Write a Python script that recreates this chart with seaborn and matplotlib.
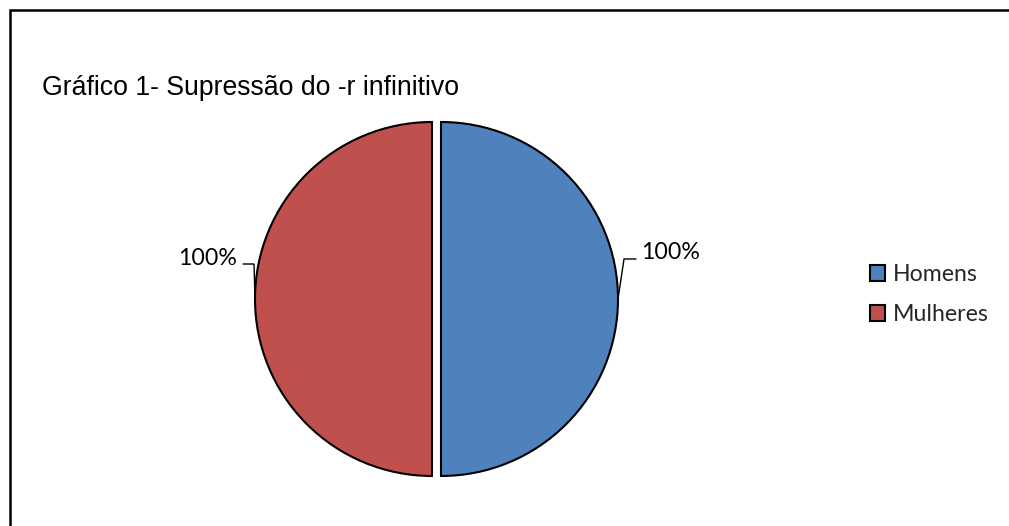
import numpy as np
import matplotlib
matplotlib.use("Agg")
import matplotlib.pyplot as plt
import matplotlib.patches as mpatches
import seaborn as sns

# ---- data ----
categories = ["Homens", "Mulheres"]
values = [100, 100]
value_labels = ["100%", "100%"]
colors = ["#4F81BD", "#C0504D"]
title = "Gráfico 1- Supressão do -r infinitivo"

sns.set_theme(style="white")
plt.rcParams["font.family"] = ["Liberation Sans", "DejaVu Sans"]

W, H = 1009, 526
fig = plt.figure(figsize=(W / 100, H / 100), dpi=100)
fig.patch.set_facecolor("white")

# pie axes: square box of 400 px centred at (436.5, 299) px (top-down coords)
R_PX = 177.0
cx, cy = 436.5, 299.0
box = 400.0
ax = fig.add_axes([(cx - box / 2) / W, (H - (cy + box / 2)) / H, box / W, box / H])
ax.set_facecolor("none")

explode = [4.5 / R_PX] * len(values)
wedges, _ = ax.pie(values, colors=colors, startangle=90, counterclock=False,
                   explode=explode, radius=1.0,
                   wedgeprops=dict(edgecolor="black", linewidth=1.5))
lim = box / 2 / R_PX
ax.set_xlim(-lim, lim)
ax.set_ylim(-lim, lim)
ax.set_aspect("equal")
ax.axis("off")

# leader lines & labels (offsets in px relative to the wedge edge at mid-angle)
label_font = ["Lato", "DejaVu Sans"]
layouts = [
    dict(elbow=(6, 40), end=(18, 40), text=(23, 46), ha="left"),
    dict(elbow=(-1, 35), end=(-12, 35), text=(-18, 40), ha="right"),
]
for w, lab, lay in zip(wedges, value_labels, layouts):
    mid = np.deg2rad((w.theta1 + w.theta2) / 2)
    c = w.center
    sx = c[0] + w.r * np.cos(mid)
    sy = c[1] + w.r * np.sin(mid)
    ex, ey = sx + lay["elbow"][0] / R_PX, sy + lay["elbow"][1] / R_PX
    hx, hy = sx + lay["end"][0] / R_PX, sy + lay["end"][1] / R_PX
    ax.plot([sx, ex, hx], [sy, ey, hy], color="black", lw=1.0,
            solid_joinstyle="miter")
    ax.text(sx + lay["text"][0] / R_PX, sy + lay["text"][1] / R_PX, lab,
            ha=lay["ha"], va="center", fontsize=16.7, family=label_font,
            color="black")

# title
fig.text(42 / W, 1 - 95 / H, title, ha="left", va="baseline",
         fontsize=19.2, family=["Liberation Sans", "DejaVu Sans"], color="black")

# legend
handles = [mpatches.Patch(facecolor=c, edgecolor="black", linewidth=1.5)
           for c in colors]
leg = fig.legend(handles, categories, loc="center left",
                 bbox_to_anchor=(869.5 / W, 1 - 294.5 / H),
                 frameon=False, borderpad=0, borderaxespad=0,
                 handlelength=0.68, handleheight=0.68, handletextpad=0.33,
                 labelspacing=0.81, prop={"family": label_font, "size": 16.7})

# outer frame (top and left edges visible, extends past right/bottom)
frame = mpatches.Rectangle((9.5 / W, -0.05), 1.1, 1 - 9.5 / H + 0.05,
                           transform=fig.transFigure, fill=False,
                           edgecolor="black", linewidth=1.8)
fig.patches.append(frame)

fig.savefig("out.png", dpi=100, facecolor="white")
